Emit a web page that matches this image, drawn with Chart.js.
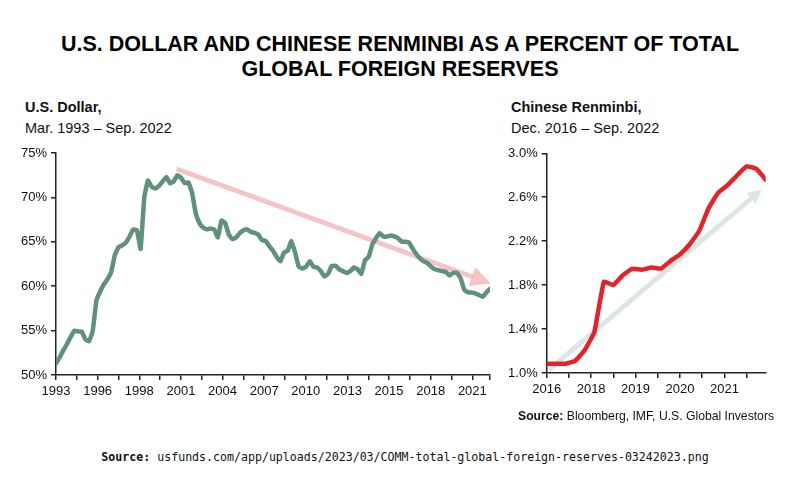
<!DOCTYPE html>
<html>
<head>
<meta charset="utf-8">
<script src="https://cdn.jsdelivr.net/npm/chart.js@4.4.1/dist/chart.umd.min.js"></script>
<style>
  html, body { margin:0; padding:0; background:#fff; }
  #wrap { position:relative; width:800px; height:485px; overflow:hidden; background:#fff; font-family:"Liberation Sans", Arial, sans-serif; color:#111; }
  .abs { position:absolute; white-space:nowrap; }
  #title { left:0; width:800px; top:32px; text-align:center; font-weight:bold; font-size:21.5px; line-height:25px; color:#000; }
  .sub { font-size:14.5px; line-height:21px; color:#111; }
  .sub b { font-weight:bold; }
  #srcR { left:518px; top:408px; font-size:12.2px; line-height:16px; color:#111; }
  #srcB { left:0; width:810px; text-align:center; top:449px; font-family:"DejaVu Sans Mono", monospace; font-size:11.6px; line-height:16px; color:#111; }
  canvas { position:absolute; }
</style>
</head>
<body>
<div id="wrap">
  <div id="title" class="abs">U.S. DOLLAR AND CHINESE RENMINBI AS A PERCENT OF TOTAL<br>GLOBAL FOREIGN RESERVES</div>
  <div class="abs sub" style="left:25px; top:97px;"><b>U.S. Dollar,</b><br>Mar. 1993 – Sep. 2022</div>
  <div class="abs sub" style="left:511px; top:97px;"><b>Chinese Renminbi,</b><br>Dec. 2016 – Sep. 2022</div>
  <canvas id="usdChart" width="500" height="270" style="left:0; top:140px; width:500px; height:270px;"></canvas>
  <canvas id="cnyChart" width="300" height="270" style="left:500px; top:140px; width:300px; height:270px;"></canvas>
  <div id="srcR" class="abs"><b>Source:</b> Bloomberg, IMF, U.S. Global Investors</div>
  <div id="srcB" class="abs"><b>Source:</b> usfunds.com/app/uploads/2023/03/COMM-total-global-foreign-reserves-03242023.png</div>
</div>
<script>
// ---- U.S. dollar share of global reserves, quarterly Mar 1993 – Sep 2022 (%) ----
const usdShare = [
  51.3,52.0,52.8,53.5,54.3,55.0,54.9,54.9,54.0,53.8,55.0,58.4,59.4,60.2,60.8,61.6,63.5,64.4,64.6,64.9,
  65.6,66.4,66.3,64.2,70.0,71.9,71.2,71.0,71.3,71.8,72.3,71.6,71.8,72.5,72.2,71.6,71.7,70.5,68.2,67.1,
  66.6,66.4,66.5,66.4,65.5,67.4,67.1,65.8,65.3,65.5,66.0,66.3,66.4,66.1,66.0,65.8,65.2,65.1,64.5,64.0,
  63.3,62.8,63.8,64.0,65.1,63.8,62.2,62.0,62.2,62.8,62.2,62.1,61.7,61.1,61.4,62.3,62.3,61.9,61.7,61.5,
  61.7,62.1,61.9,61.4,62.9,63.3,64.7,65.4,66.0,65.6,65.6,65.7,65.6,65.4,65.0,65.0,64.9,64.2,63.6,63.1,
  62.8,62.6,62.2,61.9,61.8,61.7,61.6,61.2,61.5,61.5,60.9,59.6,59.3,59.3,59.2,59.0,58.8,59.3,59.7
];
const usdTickLabels = ['1993','','1996','','1998','','2001','','2004','','2007','','2010','','2013','','2015','','2018','','2021',''];
const usdYTicks = [50, 55, 60, 65, 70, 75];
// trend arrow (quarter index, %)
const usdArrowFrom = [32.8, 73.2];
const usdArrowTo   = [118.2, 60.3];

// ---- Chinese renminbi share, quarterly Dec 2016 – Sep 2022 (%) ----
const cnyShare = [
  1.085,1.085,1.085,1.11,1.21,1.37,1.83,1.80,1.89,1.95,1.94,1.96,
  1.95,2.02,2.08,2.17,2.29,2.50,2.64,2.71,2.80,2.88,2.86,2.76
];
const cnyTickLabels = ['2016','','2018','','2019','','2020','','2021',''];
const cnyYTicks = [1.0, 1.4, 1.8, 2.2, 2.6, 3.0];
const cnyArrowFrom = [0.25, 1.03];
const cnyArrowTo   = [22.6, 2.67];

const FONT = "'Liberation Sans', Arial, sans-serif";
const AXIS = '#222';

const arrowPlugin = {
  id: 'trendArrow',
  beforeDatasetsDraw(chart, args, opts) {
    const {ctx, scales:{x, y}} = chart;
    const x1 = x.getPixelForValue(opts.from[0]), y1 = y.getPixelForValue(opts.from[1]);
    const x2 = x.getPixelForValue(opts.to[0]),   y2 = y.getPixelForValue(opts.to[1]);
    const ang = Math.atan2(y2 - y1, x2 - x1);
    const bx = x2 - opts.headLen * Math.cos(ang), by = y2 - opts.headLen * Math.sin(ang);
    ctx.save();
    ctx.strokeStyle = opts.color; ctx.fillStyle = opts.color;
    ctx.lineWidth = opts.width; ctx.lineCap = 'butt';
    ctx.beginPath(); ctx.moveTo(x1, y1); ctx.lineTo(bx + Math.cos(ang), by + Math.sin(ang)); ctx.stroke();
    const hw = opts.headWidth / 2;
    ctx.beginPath();
    ctx.moveTo(x2, y2);
    ctx.lineTo(bx + hw * Math.sin(ang), by - hw * Math.cos(ang));
    ctx.lineTo(bx - hw * Math.sin(ang), by + hw * Math.cos(ang));
    ctx.closePath(); ctx.fill();
    ctx.restore();
  }
};

function makeChart(id, values, color, lineW, xMax, tickStep, tickLabels, yTicks, yFmt, yWidth, pad, xHeight, arrow) {
  const positions = tickLabels.map((_, k) => Math.min(k * tickStep, xMax));
  return new Chart(document.getElementById(id), {
    type: 'line',
    data: { datasets: [{
      data: values.map((v, i) => ({x: i, y: v})),
      borderColor: color, borderWidth: lineW, pointRadius: 0, tension: 0.1,
      borderJoinStyle: 'round', borderCapStyle: 'round', fill: false
    }]},
    options: {
      responsive: false, animation: false, devicePixelRatio: 1,
      layout: { padding: pad },
      plugins: { legend: {display:false}, tooltip: {enabled:false}, trendArrow: arrow },
      scales: {
        x: {
          type: 'linear', min: 0, max: xMax,
          afterBuildTicks: s => { s.ticks = positions.map(v => ({value: v})); },
          afterFit: s => { s.height = xHeight; },
          ticks: { autoSkip:false, maxRotation:0, padding:4, color:'#111',
                   font:{family:FONT, size:13}, callback: (v, i) => tickLabels[i] },
          grid: { drawOnChartArea:false, drawTicks:true, tickLength:5, color:AXIS, lineWidth:1.5 },
          border: { display:true, color:AXIS, width:1.5 }
        },
        y: {
          min: yTicks[0], max: yTicks[yTicks.length - 1],
          afterBuildTicks: s => { s.ticks = yTicks.map(v => ({value: v})); },
          afterFit: s => { s.width = yWidth; },
          ticks: { padding:4, color:'#111', font:{family:FONT, size:13}, callback: v => yFmt(v) },
          grid: { drawOnChartArea:false, drawTicks:true, tickLength:5, color:AXIS, lineWidth:1.5 },
          border: { display:true, color:AXIS, width:1.5 }
        }
      }
    },
    plugins: [arrowPlugin]
  });
}

makeChart('usdChart', usdShare, '#5f917b', 4.5, usdShare.length - 1, 5.66, usdTickLabels, usdYTicks,
  v => v + '%', 56, {top:13, right:10, left:0, bottom:0}, 35,
  {from: usdArrowFrom, to: usdArrowTo, color: 'rgba(245,185,188,0.85)', width: 5, headLen: 20, headWidth: 20});

makeChart('cnyChart', cnyShare, '#e2232a', 4.5, cnyShare.length - 1, 2.333, cnyTickLabels, cnyYTicks,
  v => v.toFixed(1) + '%', 46.7, {top:13.3, right:34.3, left:0, bottom:0}, 37,
  {from: cnyArrowFrom, to: cnyArrowTo, color: '#dce6e2', width: 5, headLen: 14, headWidth: 14});
</script>
</body>
</html>
